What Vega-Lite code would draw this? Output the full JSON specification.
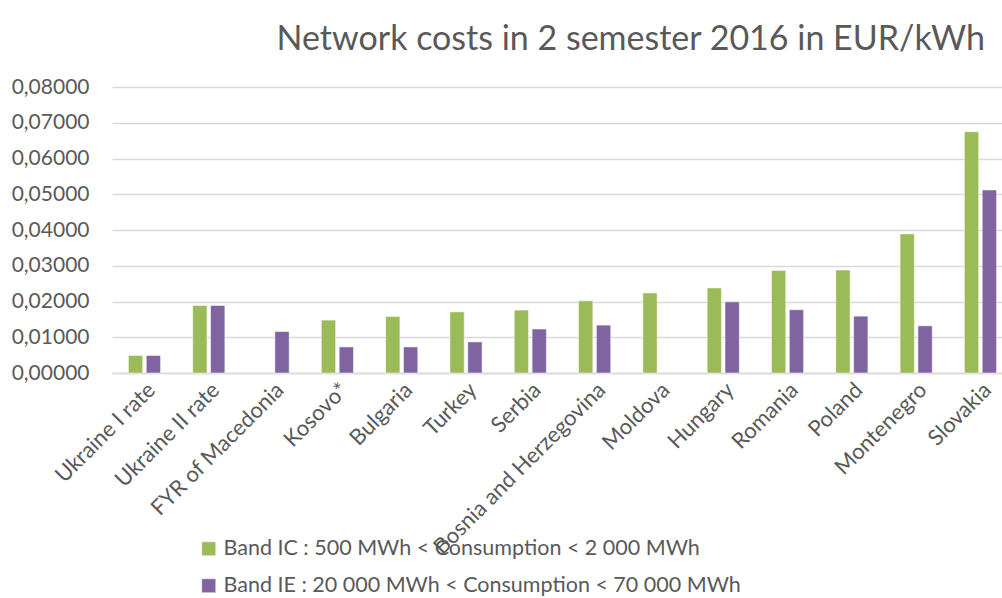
{
  "$schema": "https://vega.github.io/schema/vega-lite/v6.json",
  "autosize": "none",
  "width": 890,
  "height": 286,
  "padding": {"left": 112, "top": 87, "right": 0, "bottom": 225},
  "background": "white",
  "title": {
    "text": "Network costs in 2 semester 2016 in EUR/kWh",
    "anchor": "end",
    "font": "Lato",
    "fontSize": 34,
    "fontWeight": "normal",
    "color": "#595959",
    "dx": -17,
    "offset": 19
  },
  "data": {
    "values": [
      {"country": "Ukraine I rate", "band": "Band IC : 500 MWh < Consumption < 2 000 MWh", "value": 0.0049},
      {"country": "Ukraine I rate", "band": "Band IE : 20 000 MWh < Consumption < 70 000 MWh", "value": 0.0049},
      {"country": "Ukraine II rate", "band": "Band IC : 500 MWh < Consumption < 2 000 MWh", "value": 0.0189},
      {"country": "Ukraine II rate", "band": "Band IE : 20 000 MWh < Consumption < 70 000 MWh", "value": 0.0189},
      {"country": "FYR of Macedonia", "band": "Band IE : 20 000 MWh < Consumption < 70 000 MWh", "value": 0.0116},
      {"country": "Kosovo*", "band": "Band IC : 500 MWh < Consumption < 2 000 MWh", "value": 0.0148},
      {"country": "Kosovo*", "band": "Band IE : 20 000 MWh < Consumption < 70 000 MWh", "value": 0.0073},
      {"country": "Bulgaria", "band": "Band IC : 500 MWh < Consumption < 2 000 MWh", "value": 0.0158},
      {"country": "Bulgaria", "band": "Band IE : 20 000 MWh < Consumption < 70 000 MWh", "value": 0.0073},
      {"country": "Turkey", "band": "Band IC : 500 MWh < Consumption < 2 000 MWh", "value": 0.0171},
      {"country": "Turkey", "band": "Band IE : 20 000 MWh < Consumption < 70 000 MWh", "value": 0.0087},
      {"country": "Serbia", "band": "Band IC : 500 MWh < Consumption < 2 000 MWh", "value": 0.0176},
      {"country": "Serbia", "band": "Band IE : 20 000 MWh < Consumption < 70 000 MWh", "value": 0.0123},
      {"country": "Bosnia and Herzegovina", "band": "Band IC : 500 MWh < Consumption < 2 000 MWh", "value": 0.0202},
      {"country": "Bosnia and Herzegovina", "band": "Band IE : 20 000 MWh < Consumption < 70 000 MWh", "value": 0.0134},
      {"country": "Moldova", "band": "Band IC : 500 MWh < Consumption < 2 000 MWh", "value": 0.0224},
      {"country": "Hungary", "band": "Band IC : 500 MWh < Consumption < 2 000 MWh", "value": 0.0238},
      {"country": "Hungary", "band": "Band IE : 20 000 MWh < Consumption < 70 000 MWh", "value": 0.0199},
      {"country": "Romania", "band": "Band IC : 500 MWh < Consumption < 2 000 MWh", "value": 0.0287},
      {"country": "Romania", "band": "Band IE : 20 000 MWh < Consumption < 70 000 MWh", "value": 0.0177},
      {"country": "Poland", "band": "Band IC : 500 MWh < Consumption < 2 000 MWh", "value": 0.0288},
      {"country": "Poland", "band": "Band IE : 20 000 MWh < Consumption < 70 000 MWh", "value": 0.0159},
      {"country": "Montenegro", "band": "Band IC : 500 MWh < Consumption < 2 000 MWh", "value": 0.0389},
      {"country": "Montenegro", "band": "Band IE : 20 000 MWh < Consumption < 70 000 MWh", "value": 0.0132},
      {"country": "Slovakia", "band": "Band IC : 500 MWh < Consumption < 2 000 MWh", "value": 0.0675},
      {"country": "Slovakia", "band": "Band IE : 20 000 MWh < Consumption < 70 000 MWh", "value": 0.0512}
    ]
  },
  "mark": {"type": "bar"},
  "encoding": {
    "x": {
      "field": "country",
      "type": "nominal",
      "sort": null,
      "scale": {"paddingInner": 0.5, "paddingOuter": 0.17, "align": 0.75},
      "axis": {
        "title": null,
        "labelAngle": -45,
        "labelFont": "Lato",
        "labelFontSize": 22,
        "labelColor": "#595959",
        "labelLimit": 400,
        "ticks": false,
        "labelPadding": 6,
        "domainColor": "#D9D9D9",
        "domainWidth": 1.5,
        "grid": false
      }
    },
    "xOffset": {
      "field": "band",
      "type": "nominal",
      "scale": {"paddingInner": 0.2, "paddingOuter": 0}
    },
    "y": {
      "field": "value",
      "type": "quantitative",
      "scale": {"domain": [0, 0.08], "nice": false},
      "axis": {
        "title": null,
        "values": [0, 0.01, 0.02, 0.03, 0.04, 0.05, 0.06, 0.07, 0.08],
        "labelExpr": "replace(format(datum.value, '.5f'), '.', ',')",
        "labelFont": "Lato",
        "labelFontSize": 21,
        "labelColor": "#595959",
        "ticks": false,
        "tickSize": 0,
        "labelPadding": 23,
        "domain": false,
        "grid": true,
        "gridColor": "#D9D9D9",
        "gridWidth": 1.5
      }
    },
    "color": {
      "field": "band",
      "type": "nominal",
      "scale": {"range": ["#9BBB59", "#8064A2"]},
      "legend": {
        "title": null,
        "orient": "none",
        "legendX": 86,
        "legendY": 451,
        "direction": "vertical",
        "symbolType": "square",
        "symbolSize": 196,
        "symbolStrokeWidth": 0,
        "symbolOpacity": 1,
        "labelFont": "Lato",
        "labelFontSize": 21.5,
        "labelColor": "#595959",
        "labelOffset": 4,
        "rowPadding": 14,
        "labelLimit": 700
      }
    }
  },
  "config": {
    "view": {"stroke": null},
    "bar": {"stroke": "white", "strokeWidth": 0.5}
  }
}
